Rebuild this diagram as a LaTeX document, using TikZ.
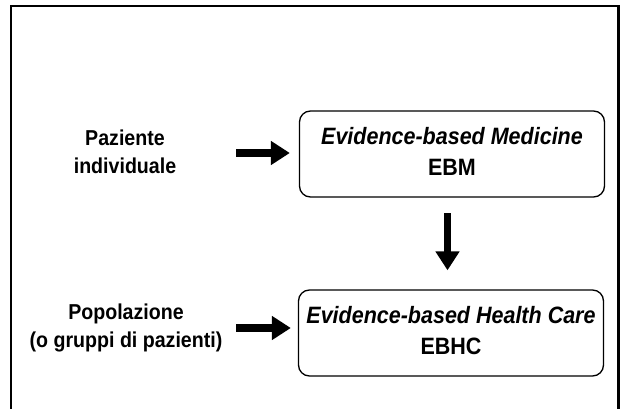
\documentclass[tikz,border=0pt]{standalone}
\usepackage{fontspec}
\setmainfont{Liberation Sans}[BoldFont={Liberation Sans Bold},BoldItalicFont={Liberation Sans Bold Italic}]
\usetikzlibrary{arrows.meta}
\newcommand\talltext[1]{\scalebox{1}[1.1]{\begin{tabular}{@{}c@{}}#1\end{tabular}}}
\begin{document}
\begin{tikzpicture}[x=1pt,y=-1pt,
  frame/.style={line width=2.4pt},
  ebox/.style={draw, line width=1.3pt, rounded corners=11pt, minimum width=305pt, minimum height=86pt, align=center, inner sep=0pt, font=\fontsize{21.5}{28.5}\selectfont\bfseries},
  side/.style={align=center, inner sep=0pt, font=\fontsize{19.6}{25}\selectfont\bfseries},
  fat/.style={line width=7.5pt, -{Triangle[length=19pt,width=23pt]}}]
\useasboundingbox (0,0) rectangle (621,409);
\draw[frame] (11,412) -- (11,6) -- (618.5,6) -- (618.5,412);
\node[ebox] (b1) at (452,154) {\talltext{\textit{Evidence-based Medicine}\\EBM}};
\node[ebox] (b2) at (451,333) {\talltext{\textit{Evidence-based Health Care}\\EBHC}};
\node[side] (l1) at (125,154) {\talltext{Paziente\\individuale}};
\node[side] (l2) at (126,328) {\talltext{Popolazione\\(o gruppi di pazienti)}};
\coordinate (a1) at (236,153);
\coordinate (a2) at (236,328);
\coordinate (d1) at (447.5,213);
\draw[fat] (a1) -- ([xshift=-9pt]b1.west |- a1);
\draw[fat] (a2) -- ([xshift=-7pt]b2.west |- a2);
\draw[fat] (d1) -- ([yshift=19pt]d1 |- b2.north);
\end{tikzpicture}
\end{document}
